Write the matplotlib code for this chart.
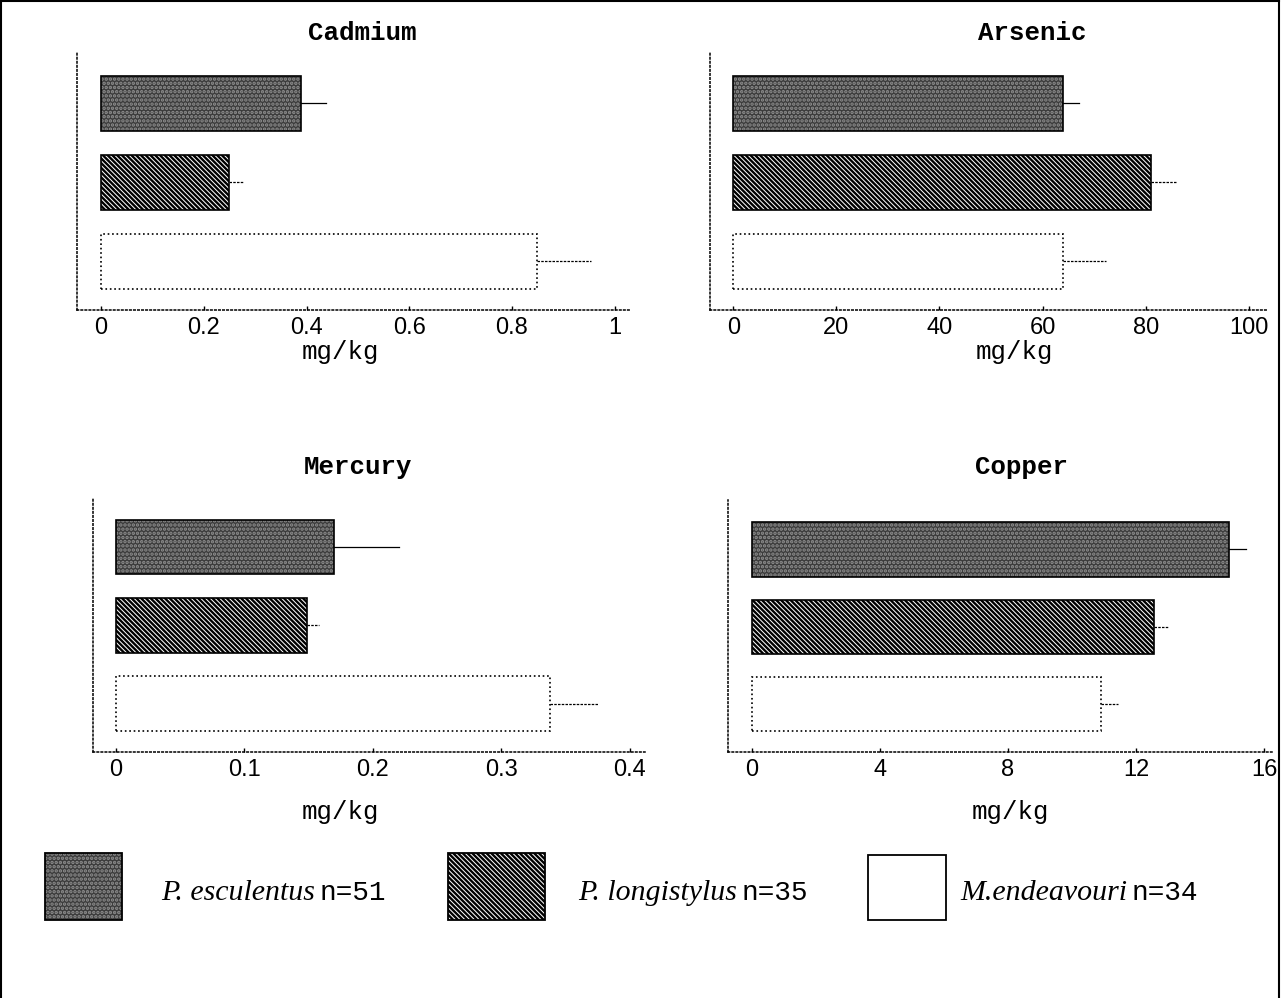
import matplotlib
matplotlib.use('Agg')
import matplotlib.pyplot as plt
from matplotlib.patches import Rectangle
from matplotlib.lines import Line2D

# ---------------- data ----------------
metals = ['Cadmium', 'Arsenic', 'Mercury', 'Copper']
species = ['P. esculentus', 'P. longistylus', 'M.endeavouri']
sample_n = ['n=51', 'n=35', 'n=34']

cadmium_mean = [0.39, 0.25, 0.848]
cadmium_err = [0.048, 0.027, 0.106]
arsenic_mean = [64.0, 81.0, 64.0]
arsenic_err = [3.0, 4.8, 8.2]
mercury_mean = [0.170, 0.149, 0.338]
mercury_err = [0.050, 0.009, 0.037]
copper_mean = [14.9, 12.55, 10.92]
copper_err = [0.55, 0.48, 0.52]

cadmium_ticks = [0, 0.2, 0.4, 0.6, 0.8, 1]
cadmium_ticklabels = ['0', '0.2', '0.4', '0.6', '0.8', '1']
arsenic_ticks = [0, 20, 40, 60, 80, 100]
arsenic_ticklabels = ['0', '20', '40', '60', '80', '100']
mercury_ticks = [0, 0.1, 0.2, 0.3, 0.4]
mercury_ticklabels = ['0', '0.1', '0.2', '0.3', '0.4']
copper_ticks = [0, 4, 8, 12, 16]
copper_ticklabels = ['0', '4', '8', '12', '16']

unit_label = 'mg/kg'

# ---------------- layout ----------------
W, H = 1281, 998
fig = plt.figure(figsize=(W / 100, H / 100), dpi=100)
plt.rcParams['hatch.linewidth'] = 1.7


def fx(px):
    return px / W


def fy(py):
    return 1 - py / H


panels = [
    dict(name=metals[0], mean=cadmium_mean, err=cadmium_err, ticks=cadmium_ticks,
         labels=cadmium_ticklabels, box=(77, 53, 630, 310), xlim=(-0.047, 1.03),
         title_xy=(362, 33), unit_xy=(340, 352)),
    dict(name=metals[1], mean=arsenic_mean, err=arsenic_err, ticks=arsenic_ticks,
         labels=arsenic_ticklabels, box=(710, 53, 1268, 310), xlim=(-4.5, 103.7),
         title_xy=(1032, 33), unit_xy=(1014, 352)),
    dict(name=metals[2], mean=mercury_mean, err=mercury_err, ticks=mercury_ticks,
         labels=mercury_ticklabels, box=(93, 497, 645, 752), xlim=(-0.018, 0.412),
         title_xy=(358, 467), unit_xy=(340, 812)),
    dict(name=metals[3], mean=copper_mean, err=copper_err, ticks=copper_ticks,
         labels=copper_ticklabels, box=(728, 500, 1272, 752), xlim=(-0.75, 16.25),
         title_xy=(1022, 467), unit_xy=(1010, 812)),
]

ypos = [2, 1, 0]
styles = [
    dict(face='#3c3c3c', hatchcol='#8f8f8f', hatch='....'),
    dict(face='white', hatchcol='black', hatch='\\' * 7),
    dict(face='white', hatchcol='white', hatch=None),
]
edge_ls = ['-', '-', ':']

for p in panels:
    l, t, r, b = p['box']
    ax = fig.add_axes([fx(l), fy(b), fx(r) - fx(l), fy(t) - fy(b)])
    for i, (m, e) in enumerate(zip(p['mean'], p['err'])):
        st = styles[i]
        ax.barh(ypos[i], m, height=0.7, color=st['face'], edgecolor=st['hatchcol'],
                hatch=st['hatch'], linewidth=0, zorder=2)
        ax.barh(ypos[i], m, height=0.7, fill=False, edgecolor='black',
                linewidth=1.2, linestyle=edge_ls[i], zorder=3)
        ax.plot([m, m + e], [ypos[i], ypos[i]], color='black', lw=0.9,
                linestyle='-' if i == 0 else (0, (2, 1)), zorder=3)
    ax.set_xlim(*p['xlim'])
    ax.set_ylim(-0.62, 2.64)
    ax.set_xticks(p['ticks'])
    ax.set_xticklabels(p['labels'], fontfamily='Liberation Sans', fontsize=17)
    ax.set_yticks([])
    for s in ['top', 'right']:
        ax.spines[s].set_visible(False)
    for s in ['left', 'bottom']:
        ax.spines[s].set_linestyle(':')
        ax.spines[s].set_linewidth(1.1)
    ax.tick_params(axis='x', direction='in', length=3, width=1, pad=5)
    ax.patch.set_alpha(0)
    fig.text(fx(p['title_xy'][0]), fy(p['title_xy'][1]), p['name'],
             fontfamily='Liberation Mono', fontweight='bold', fontsize=18.5,
             ha='center', va='center')
    fig.text(fx(p['unit_xy'][0]), fy(p['unit_xy'][1]), unit_label,
             fontfamily='Liberation Mono', fontsize=18.5, ha='center', va='center')

# ---------------- legend ----------------
leg_boxes = [(45, 853, 122, 920), (448, 853, 545, 920), (868, 855, 946, 920)]
leg_text_x = [161, 578, 960]
leg_y = 900
for i in range(3):
    l, t, r, b = leg_boxes[i]
    st = styles[i]
    fig.patches.append(Rectangle((fx(l), fy(b)), fx(r) - fx(l), fy(t) - fy(b),
                                 transform=fig.transFigure, facecolor=st['face'],
                                 edgecolor=st['hatchcol'], hatch=st['hatch'], lw=0))
    fig.patches.append(Rectangle((fx(l), fy(b)), fx(r) - fx(l), fy(t) - fy(b),
                                 transform=fig.transFigure, fill=False,
                                 edgecolor='black', lw=1.3))
    t1 = fig.text(fx(leg_text_x[i]), fy(leg_y), species[i], fontfamily='Liberation Serif',
                  fontstyle='italic', fontsize=21.5, ha='left', va='baseline')
    fig.canvas.draw()
    bb = t1.get_window_extent()
    fig.text((bb.x1 + 5) / W, fy(leg_y), sample_n[i], fontfamily='Liberation Mono',
             fontsize=20, ha='left', va='baseline')

# ---------------- outer frame ----------------
fig.lines.append(Line2D([fx(1), fx(1)], [fy(997), fy(1)], transform=fig.transFigure,
                        color='black', lw=1.5))
fig.lines.append(Line2D([fx(1), fx(1279)], [fy(1), fy(1)], transform=fig.transFigure,
                        color='black', lw=1.5))
fig.lines.append(Line2D([fx(1279), fx(1279)], [fy(1), fy(997)], transform=fig.transFigure,
                        color='black', lw=1.5))

fig.savefig('out.png', dpi=100)
